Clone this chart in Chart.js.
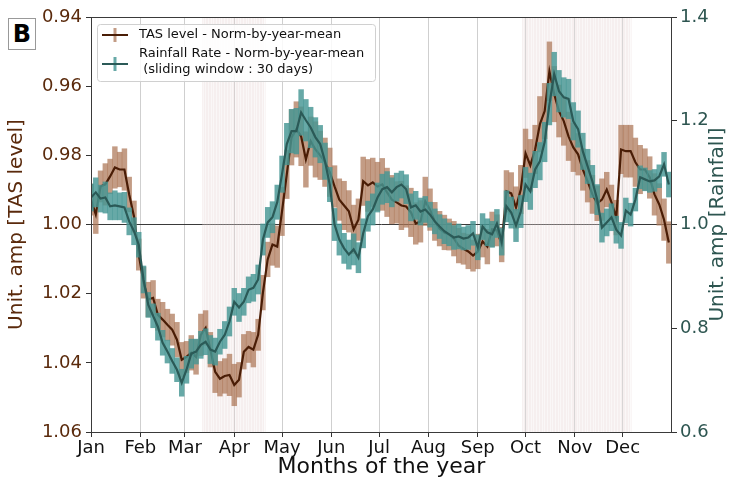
<!DOCTYPE html>
<html>
<head>
<meta charset="utf-8">
<script src="https://cdn.jsdelivr.net/npm/chart.js@4.4.1/dist/chart.umd.min.js"></script>
<style>
  html, body { margin: 0; padding: 0; background: #fff; }
  #wrap { position: relative; width: 730px; height: 480px; }
  #panel {
    position: absolute; left: 8px; top: 18px; width: 26px; height: 30px;
    border: 1px solid #999; background: #fff;
    font: bold 24px "DejaVu Sans"; line-height: 30px; text-align: center; color: #000;
  }
</style>
</head>
<body>
<div id="wrap">
  <canvas id="chart" width="730" height="480"></canvas>
  <div id="panel">B</div>
</div>
<script>
// day of year (every 3rd day)
const days = [0,3,6,9,12,15,18,21,24,27,30,33,36,39,42,45,48,51,54,57,60,63,66,69,72,75,78,81,84,87,90,93,96,99,102,105,108,111,114,117,120,123,126,129,132,135,138,141,144,147,150,153,156,159,162,165,168,171,174,177,180,183,186,189,192,195,198,201,204,207,210,213,216,219,222,225,228,231,234,237,240,243,246,249,252,255,258,261,264,267,270,273,276,279,282,285,288,291,294,297,300,303,306,309,312,315,318,321,324,327,330,333,336,339,342,345,348,351,354,357,360,363];

// TAS level, normalised by the yearly mean
const tas = [
  0.9928,0.9971,0.9890,0.9884,0.9861,0.9835,0.9841,0.9841,0.9913,0.9977,
  1.0087,1.0168,1.0217,1.0212,1.0261,1.0275,1.0290,1.0304,1.0333,1.0391,
  1.0383,1.0371,1.0383,1.0319,1.0299,1.0362,1.0426,1.0446,1.0438,1.0435,
  1.0464,1.0449,1.0368,1.0354,1.0362,1.0319,1.0197,1.0101,1.0058,1.0064,
  0.9962,0.9855,0.9748,0.9725,0.9745,0.9812,0.9759,0.9783,0.9800,0.9820,
  0.9849,0.9890,0.9928,0.9945,0.9962,1.0014,0.9986,0.9875,0.9887,0.9878,
  0.9890,0.9884,0.9907,0.9928,0.9936,0.9945,0.9948,0.9965,0.9997,0.9991,
  0.9933,0.9957,0.9991,1.0012,1.0023,1.0029,1.0041,1.0061,1.0070,1.0078,
  1.0090,1.0078,1.0049,1.0064,1.0014,1.0017,1.0058,0.9904,0.9910,0.9951,
  0.9899,0.9794,0.9829,0.9783,0.9710,0.9672,0.9557,0.9623,0.9672,0.9701,
  0.9745,0.9777,0.9797,0.9841,0.9875,0.9913,0.9939,0.9928,0.9899,0.9936,
  0.9980,0.9783,0.9788,0.9788,0.9820,0.9841,0.9841,0.9864,0.9913,0.9942,
  0.9986,1.0052
];
const tasErr = [
  .0045,.0055,.0045,.006,.005,.006,.005,.006,.005,.0045,
  .0045,.0045,.005,.005,.0045,.005,.0045,.0045,.005,.005,
  .0045,.005,.005,.006,.005,.005,.006,.005,.005,.006,
  .006,.005,.005,.0045,.005,.0045,.005,.005,.006,.006,
  .007,.007,.008,.008,.0085,.008,.007,.008,.007,.007,
  .007,.006,.006,.007,.006,.007,.006,.007,.0075,.007,
  .007,.0075,.007,.007,.006,.007,.006,.007,.006,.006,
  .007,.006,.0055,.005,.005,.0045,.005,.005,.0045,.005,
  .0045,.005,.0045,.005,.005,.0045,.005,.006,.006,.006,
  .007,.007,.0075,.007,.008,.008,.0085,.008,.0075,.007,
  .007,.007,.006,.006,.006,.0055,.005,.006,.005,.005,
  .005,.007,.0075,.0075,.007,.007,.006,.006,.006,.006,
  .006,.006
];

// rainfall rate, normalised by the yearly mean (30-day sliding window)
const rain = [
  1.052,1.062,1.050,1.052,1.035,1.037,1.035,1.033,1.006,0.987,
  0.961,0.894,0.845,0.824,0.803,0.772,0.755,0.737,0.720,0.695,
  0.720,0.751,0.755,0.768,0.774,0.759,0.755,0.774,0.787,0.813,
  0.851,0.840,0.851,0.874,0.878,0.894,0.971,1.004,1.014,1.043,
  1.097,1.155,1.180,1.180,1.216,1.201,1.187,1.168,1.155,1.122,
  1.077,1.000,0.971,0.954,0.942,0.952,0.936,0.983,1.016,1.029,
  1.052,1.068,1.072,1.062,1.072,1.077,1.068,1.033,1.037,1.025,
  1.029,1.019,1.006,0.996,0.987,0.981,0.975,0.977,0.973,0.975,
  0.983,0.956,0.996,0.985,0.981,1.002,0.967,1.035,1.023,0.998,
  1.025,1.077,1.064,1.106,1.122,1.159,1.232,1.290,1.257,1.245,
  1.242,1.199,1.184,1.141,1.112,1.083,1.048,0.994,1.004,1.014,
  0.990,0.979,1.027,1.019,1.048,1.091,1.087,1.083,1.085,1.093,
  1.116,1.077
];
const rainErr = [
  .026,.028,.026,.030,.026,.028,.026,.029,.026,.026,
  .024,.026,.024,.023,.026,.024,.022,.024,.023,.026,
  .026,.028,.024,.026,.025,.027,.026,.024,.026,.028,
  .026,.027,.026,.025,.026,.028,.030,.029,.030,.033,
  .035,.040,.042,.044,.044,.040,.039,.038,.036,.035,
  .033,.031,.030,.029,.028,.030,.029,.028,.029,.030,
  .028,.029,.030,.028,.027,.026,.028,.026,.027,.026,
  .025,.024,.024,.023,.024,.022,.023,.024,.022,.023,
  .023,.024,.025,.026,.025,.027,.026,.030,.030,.031,
  .031,.033,.035,.035,.036,.038,.040,.042,.040,.038,
  .038,.036,.035,.035,.033,.031,.029,.028,.026,.026,
  .026,.025,.024,.022,.022,.022,.022,.021,.021,.022,
  .023,.024
];

const monthStarts = [0,31,59,90,120,151,181,212,243,273,304,334];
const monthLabels = ['Jan','Feb','Mar','Apr','May','Jun','Jul','Aug','Sep','Oct','Nov','Dec'];
const tasTicks = [0.94,0.96,0.98,1.00,1.02,1.04,1.06];
const rainTicks = [0.6,0.8,1.0,1.2,1.4];
// highlighted day ranges
const shadeRanges = [[70,109],[271,339]];

const BROWN = '#4a1d06';
const BROWN_ERR = 'rgba(172,118,86,0.72)';
const TEAL = '#2b5a57';
const TEAL_ERR = 'rgba(70,150,148,0.82)';
const FONT = 'DejaVu Sans';

const shadePlugin = {
  id: 'shade',
  beforeDatasetsDraw(chart) {
    const {ctx, chartArea: a, scales: {x}} = chart;
    ctx.save();
    shadeRanges.forEach(([d0, d1]) => {
      const x0 = x.getPixelForValue(d0), x1 = x.getPixelForValue(d1);
      ctx.fillStyle = 'rgba(240,228,228,0.3)';
      ctx.fillRect(x0, a.top, x1 - x0, a.bottom - a.top);
      ctx.strokeStyle = 'rgba(215,185,185,0.12)';
      ctx.lineWidth = 1;
      for (let d = d0; d <= d1; d++) {
        const px = Math.round(x.getPixelForValue(d)) + 0.5;
        ctx.beginPath();
        ctx.moveTo(px, a.top);
        ctx.lineTo(px, a.bottom);
        ctx.stroke();
      }
    });
    ctx.restore();
  }
};

const framePlugin = {
  id: 'frame',
  afterDatasetsDraw(chart) {
    const {ctx, chartArea: a} = chart;
    ctx.save();
    ctx.strokeStyle = '#3a3a3a';
    ctx.lineWidth = 1;
    ctx.strokeRect(a.left + 0.5, a.top + 0.5, a.right - a.left - 1, a.bottom - a.top);
    ctx.restore();
  }
};

// right-hand axis title, reading bottom to top
const rightTitlePlugin = {
  id: 'rightTitle',
  afterDraw(chart) {
    const {ctx, chartArea: a} = chart;
    ctx.save();
    ctx.translate(718, (a.top + a.bottom) / 2);
    ctx.rotate(-Math.PI / 2);
    ctx.fillStyle = '#2d5550';
    ctx.font = '20px "' + FONT + '"';
    ctx.textAlign = 'center';
    ctx.textBaseline = 'middle';
    ctx.fillText('Unit. amp [Rainfall]', 0, 0);
    ctx.restore();
  }
};

const legendPlugin = {
  id: 'errLegend',
  afterDraw(chart) {
    const ctx = chart.ctx;
    ctx.save();
    const bx = 97, by = 24, bw = 278, bh = 57;
    ctx.fillStyle = 'rgba(255,255,255,0.85)';
    ctx.strokeStyle = '#d0d0d0';
    ctx.lineWidth = 1;
    ctx.beginPath();
    ctx.roundRect(bx + 0.5, by + 0.5, bw, bh, 3);
    ctx.fill();
    ctx.stroke();

    const glyph = (cy, line, err) => {
      ctx.strokeStyle = err;
      ctx.lineWidth = 3;
      ctx.beginPath();
      ctx.moveTo(115, cy - 7);
      ctx.lineTo(115, cy + 7);
      ctx.stroke();
      ctx.strokeStyle = line;
      ctx.lineWidth = 2;
      ctx.beginPath();
      ctx.moveTo(102, cy);
      ctx.lineTo(128, cy);
      ctx.stroke();
    };
    glyph(35, BROWN, BROWN_ERR);
    glyph(64, TEAL, TEAL_ERR);

    ctx.fillStyle = '#111';
    ctx.font = '13px "' + FONT + '"';
    ctx.textBaseline = 'middle';
    ctx.fillText('TAS level - Norm-by-year-mean', 139, 35);
    ctx.fillText('Rainfall Rate - Norm-by-year-mean', 139, 54);
    ctx.fillText(' (sliding window : 30 days)', 139, 70);
    ctx.restore();
  }
};

new Chart(document.getElementById('chart'), {
  data: {
    datasets: [
      {
        type: 'bar',
        yAxisID: 'yT',
        order: 4,
        data: days.map((d, i) => ({x: d, y: [tas[i] - tasErr[i], tas[i] + tasErr[i]]})),
        backgroundColor: BROWN_ERR,
        borderWidth: 0,
        barThickness: 4.8,
        grouped: false
      },
      {
        type: 'line',
        yAxisID: 'yT',
        order: 3,
        data: days.map((d, i) => ({x: d, y: tas[i]})),
        borderColor: BROWN,
        borderWidth: 2.2,
        pointRadius: 0,
        tension: 0
      },
      {
        type: 'bar',
        yAxisID: 'yR',
        order: 2,
        data: days.map((d, i) => ({x: d, y: [rain[i] - rainErr[i], rain[i] + rainErr[i]]})),
        backgroundColor: TEAL_ERR,
        borderWidth: 0,
        barThickness: 4.8,
        grouped: false
      },
      {
        type: 'line',
        yAxisID: 'yR',
        order: 1,
        data: days.map((d, i) => ({x: d, y: rain[i]})),
        borderColor: TEAL,
        borderWidth: 2.2,
        pointRadius: 0,
        tension: 0
      }
    ]
  },
  options: {
    responsive: false,
    animation: false,
    events: [],
    layout: { padding: { top: 17, left: 0, right: 0, bottom: 0 } },
    plugins: { legend: { display: false }, tooltip: { enabled: false } },
    scales: {
      x: {
        type: 'linear',
        min: 0,
        max: 365,
        offset: false,
        afterBuildTicks: (s) => { s.ticks = monthStarts.map(v => ({value: v})); },
        afterFit: (s) => { s.height = 48; },
        grid: { offset: false, color: '#cfcfcf', lineWidth: 1, tickColor: '#333', tickLength: 5 },
        border: { display: false },
        ticks: {
          autoSkip: false,
          maxRotation: 0,
          padding: 1,
          color: '#111',
          font: { family: FONT, size: 18 },
          callback: (v, i) => monthLabels[i]
        },
        title: {
          display: true,
          text: 'Months of the year',
          color: '#111',
          font: { family: FONT, size: 22 },
          padding: { top: 0, bottom: 0 }
        }
      },
      yT: {
        type: 'linear',
        position: 'left',
        reverse: true,
        min: 0.94,
        max: 1.06,
        afterBuildTicks: (s) => { s.ticks = tasTicks.map(v => ({value: v})); },
        afterFit: (s) => { s.width = 91; },
        grid: {
          color: (c) => (c.tick && Math.abs(c.tick.value - 1) < 1e-6) ? '#3a3a3a' : 'rgba(0,0,0,0)',
          tickColor: '#333',
          tickLength: 5
        },
        border: { display: false },
        ticks: {
          padding: 4,
          color: '#5a2a0c',
          font: { family: FONT, size: 18 },
          callback: (v) => v.toFixed(2)
        },
        title: {
          display: true,
          text: 'Unit. amp [TAS level]',
          color: '#5a2a0c',
          font: { family: FONT, size: 20 },
          padding: { top: 5, bottom: 0 }
        }
      },
      yR: {
        type: 'linear',
        position: 'right',
        min: 0.6,
        max: 1.4,
        afterBuildTicks: (s) => { s.ticks = rainTicks.map(v => ({value: v})); },
        afterFit: (s) => { s.width = 58; },
        grid: { drawOnChartArea: false, tickColor: '#333', tickLength: 5 },
        border: { display: false },
        ticks: {
          padding: 3,
          color: '#2d5550',
          font: { family: FONT, size: 18 },
          callback: (v) => v.toFixed(1)
        }
      }
    }
  },
  plugins: [shadePlugin, framePlugin, rightTitlePlugin, legendPlugin]
});
</script>
</body>
</html>
